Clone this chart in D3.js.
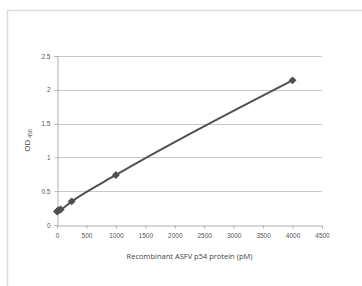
<!DOCTYPE html>
<html>
<head>
<meta charset="utf-8">
<script src="https://cdn.jsdelivr.net/npm/d3@7"></script>
<style>
  body { margin: 0; background: #fff; }
  svg { display: block; font-family: "Open Sans", "Liberation Sans", Arial, sans-serif; }
</style>
</head>
<body>
<div id="chart"></div>
<script>
const concentrations = [0, 16, 31, 62, 250, 1000, 4000];
const odValues = [0.20, 0.21, 0.22, 0.23, 0.35, 0.74, 2.14];
const xTicks = [0, 500, 1000, 1500, 2000, 2500, 3000, 3500, 4000, 4500];
const yTicks = [0, 0.5, 1, 1.5, 2, 2.5];

const width = 362, height = 286;
const margin = { left: 57, right: 40, top: 56, bottom: 61 };

const svg = d3.select("#chart").append("svg")
    .attr("width", width)
    .attr("height", height);

// frame of the original figure
svg.append("path")
    .attr("d", `M7.5,${height} V10.5 H${width}`)
    .attr("fill", "none")
    .attr("stroke", "#dcdcdc")
    .attr("stroke-width", 1.5);

const x = d3.scaleLinear().domain([0, 4500]).range([margin.left, width - margin.right]);
const y = d3.scaleLinear().domain([0, 2.5]).range([height - margin.bottom, margin.top]);

// gridlines
svg.append("g")
    .selectAll("line")
    .data(yTicks.slice(1))
    .enter().append("line")
    .attr("x1", x(0))
    .attr("x2", x(4500))
    .attr("y1", d => Math.round(y(d)) + 0.5)
    .attr("y2", d => Math.round(y(d)) + 0.5)
    .attr("stroke", "#c8c8c8")
    .attr("stroke-width", 1);

// y axis
const yAxis = svg.append("g")
    .attr("transform", `translate(${Math.round(x(0)) + 0.5},0)`)
    .call(d3.axisLeft(y).tickValues(yTicks).tickFormat(d => d).tickSize(3).tickPadding(4));
yAxis.select(".domain").attr("stroke", "#b0b0b0");
yAxis.selectAll(".tick line").attr("stroke", "#b0b0b0");
yAxis.selectAll("text").attr("fill", "#555").style("font-size", "6.5px");

// x axis
const xAxis = svg.append("g")
    .attr("transform", `translate(0,${Math.round(y(0)) + 0.5})`)
    .call(d3.axisBottom(x).tickValues(xTicks).tickFormat(d => d).tickSize(3).tickPadding(5));
xAxis.select(".domain").attr("stroke", "#b0b0b0");
xAxis.selectAll(".tick line").attr("stroke", "#b0b0b0");
xAxis.selectAll("text").attr("fill", "#555").style("font-size", "6.5px");

// axis titles
svg.append("text")
    .attr("x", (x(0) + x(4500)) / 2)
    .attr("y", 259)
    .attr("text-anchor", "middle")
    .attr("fill", "#444")
    .style("font-size", "7.5px")
    .text("Recombinant ASFV p54 protein (pM)");

const yTitle = svg.append("text")
    .attr("transform", `translate(30,${(y(0) + y(2.5)) / 2}) rotate(-90)`)
    .attr("text-anchor", "middle")
    .attr("fill", "#444")
    .style("font-size", "8px");
yTitle.append("tspan").text("OD ");
yTitle.append("tspan").attr("dy", 2).style("font-size", "5px").text("450");

// curve
const pts = concentrations.map((c, i) => [c, odValues[i]]);
const line = d3.line()
    .x(d => x(d[0]))
    .y(d => y(d[1]))
    .curve(d3.curveMonotoneX);

svg.append("path")
    .datum(pts)
    .attr("d", line)
    .attr("fill", "none")
    .attr("stroke", "#505050")
    .attr("stroke-width", 2);

// diamond markers
svg.append("g")
    .selectAll("path")
    .data(pts)
    .enter().append("path")
    .attr("transform", d => `translate(${x(d[0])},${y(d[1])})`)
    .attr("d", d3.symbol().type(d3.symbolDiamond2).size(40))
    .attr("fill", "#505050");
</script>
</body>
</html>
